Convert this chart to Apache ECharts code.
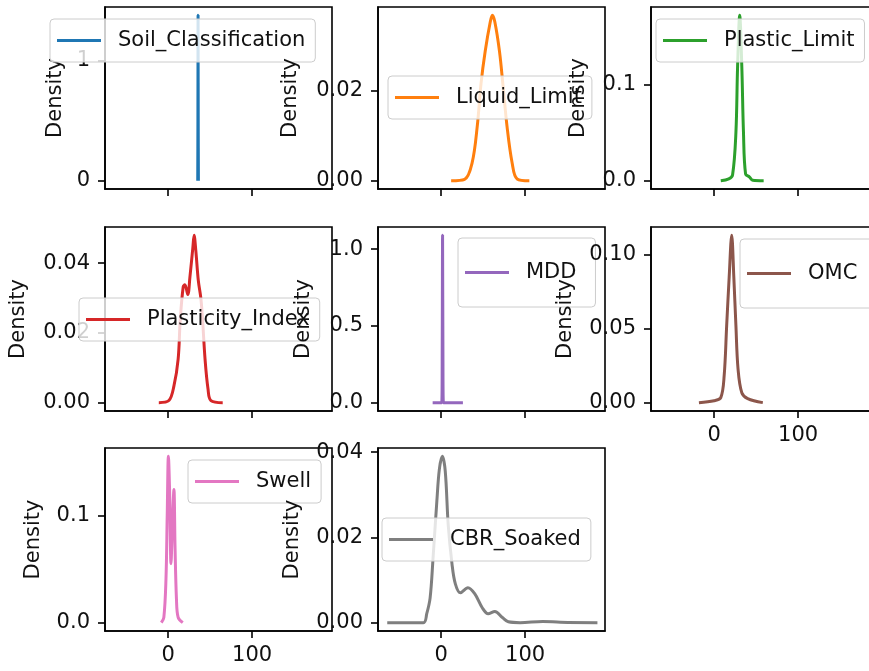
<!DOCTYPE html>
<html>
<head>
<meta charset="utf-8">
<script src="https://cdn.jsdelivr.net/npm/echarts@6/dist/echarts.min.js"></script>
<style>
html, body { margin: 0; padding: 0; background: #fff; }
#main { width: 869px; height: 671px; }
</style>
</head>
<body>
<div id="main"></div>
<script>
// density curves, [x, density]
var seriesNames = ['Soil_Classification', 'Liquid_Limit', 'Plastic_Limit', 'Plasticity_Index',
                   'MDD', 'OMC', 'Swell', 'CBR_Soaked'];

var soilClassification = [[35.3, 0], [35.5, 0.45], [35.7, 1.38], [35.9, 0.45], [36.1, 0]];
var liquidLimit = [[12, 0], [28, 0.0003], [37, 0.004], [43, 0.012], [47.5, 0.0215], [52.5, 0.0287],
                   [58.5, 0.0352], [61, 0.0367], [64, 0.0352], [69.5, 0.0287], [73.5, 0.0215],
                   [78.5, 0.012], [84.5, 0.004], [90.5, 0.0004], [105, 0]];
var plasticLimit = [[8, 0], [17.5, 0.002], [22, 0.006], [26, 0.05], [28, 0.119], [30.5, 0.172],
                    [33, 0.119], [35, 0.05], [37.5, 0.007], [42, 0.004], [46, 0.0005], [59, 0]];
var plasticityIndex = [[-11, 0], [1, 0.0006], [7, 0.0048], [12, 0.0125], [14.5, 0.0238], [18, 0.0332],
                       [20, 0.0338], [23.5, 0.031], [26, 0.036], [29.5, 0.0445], [31, 0.048],
                       [33, 0.0437], [36, 0.035], [39, 0.030], [41, 0.024], [44, 0.0125],
                       [47.5, 0.004], [51, 0.0006], [65, 0]];
var mdd = [[-10, 0], [0.8, 0], [1.4, 0.4], [1.8, 1.09], [2.2, 0.4], [2.8, 0], [26, 0]];
var omc = [[-18, 0], [0, 0.0013], [8, 0.0034], [12, 0.018], [15, 0.052], [18, 0.085], [21, 0.113],
           [23.5, 0.085], [26, 0.052], [28.5, 0.023], [33, 0.0067], [40, 0.0027], [58, 0]];
var swell = [[-8, 0], [-5, 0.005], [-2.5, 0.04], [-1, 0.10], [0.4, 0.155], [2, 0.118], [3.5, 0.055],
             [5, 0.087], [7, 0.124], [8.3, 0.071], [10, 0.022], [12, 0.005], [17.5, 0]];
var cbrSoaked = [[-64, 0], [-21, 0], [-17, 0.0021], [-13, 0.0058], [-9.5, 0.0152], [-5, 0.0285],
                 [-2, 0.036], [1.5, 0.039], [5, 0.0355], [8.5, 0.023], [13, 0.0138], [17, 0.0091],
                 [23, 0.0070], [32, 0.0082], [40, 0.0068], [49, 0.0035], [56, 0.0021], [64, 0.0026],
                 [73, 0.0012], [80, 0.0002], [94, 0], [121, 0.0003], [142, 0.0001], [186, 0]];

var curves = [soilClassification, liquidLimit, plasticLimit, plasticityIndex, mdd, omc, swell, cbrSoaked];

// tick labels
var xTicks = [0, 100];
var yTicks = [[0, 1], [0, 0.02], [0, 0.1], [0, 0.02, 0.04], [0, 0.5, 1.0], [0, 0.05, 0.1], [0, 0.1], [0, 0.02, 0.04]];
var yDecimals = [0, 2, 1, 2, 1, 2, 1, 2];

var colors = ['#1f77b4', '#ff7f0e', '#2ca02c', '#d62728', '#9467bd', '#8c564b', '#e377c2', '#7f7f7f'];

// layout
var xMin = -75, xMax = 195;
var colLeft = [105, 378, 651];
var rowTop = [7, 227, 448];
var rowHeight = [182, 184, 183];
var gridWidth = 227;
var nameGaps = [39, 77, 62, 76, 64, 75, 61, 75];
var showXLabels = [false, false, false, false, false, true, true, true];
var legendPos = [
    {left: 50, top: 19}, {left: 388, top: 76}, {left: 656, top: 19}, {left: 79, top: 298},
    {left: 458, top: 238}, {left: 740, top: 239}, {left: 188, top: 460}, {left: 382, top: 518}
];
var tallLegend = [false, false, false, false, true, true, false, false];

var font = 'DejaVu Sans';
var myChart = echarts.init(document.getElementById('main'));

var grids = [], xAxes = [], yAxes = [], series = [], legends = [];

for (var i = 0; i < curves.length; i++) {
    var r = Math.floor(i / 3), c = i % 3;
    var peak = Math.max.apply(null, curves[i].map(function (p) { return p[1]; }));
    var dec = yDecimals[i];
    grids.push({
        left: colLeft[c], top: rowTop[r], width: gridWidth, height: rowHeight[r],
        show: true, borderColor: '#000', borderWidth: 1.6, backgroundColor: 'transparent',
        containLabel: false, outerBoundsMode: 'none'
    });
    xAxes.push({
        type: 'value', gridIndex: i, min: xMin, max: xMax, z: 3 + 2 * i,
        axisLine: {show: true, onZero: false, lineStyle: {color: '#000', width: 1.6}},
        axisTick: {show: true, inside: false, length: 7, customValues: xTicks, lineStyle: {color: '#000', width: 1.6}},
        axisLabel: {show: showXLabels[i], customValues: xTicks, margin: 14, fontFamily: font, fontSize: 21, color: '#111'},
        splitLine: {show: false}
    });
    yAxes.push({
        type: 'value', gridIndex: i, min: -0.05 * peak, max: 1.05 * peak, z: 3 + 2 * i,
        name: 'Density', nameLocation: 'middle', nameGap: nameGaps[i], nameMoveOverlap: false,
        nameTextStyle: {fontFamily: font, fontSize: 21, color: '#111'},
        axisLine: {show: true, onZero: false, lineStyle: {color: '#000', width: 1.6}},
        axisTick: {show: true, inside: false, length: 7, customValues: yTicks[i], lineStyle: {color: '#000', width: 1.6}},
        axisLabel: {
            show: true, customValues: yTicks[i], margin: 15, fontFamily: font, fontSize: 21, color: '#111',
            formatter: (function (d) { return function (v) { return Number(v).toFixed(d); }; })(dec)
        },
        splitLine: {show: false}
    });
    series.push({
        name: seriesNames[i], type: 'line', xAxisIndex: i, yAxisIndex: i,
        data: curves[i], showSymbol: false, symbol: 'none', smooth: 0.35,
        lineStyle: {color: colors[i], width: 3}, itemStyle: {color: colors[i]}, z: 2
    });
    legends.push({
        data: [seriesNames[i]], left: legendPos[i].left, top: legendPos[i].top, z: 4 + 2 * i,
        orient: 'horizontal', selectedMode: false, icon: 'rect', itemWidth: 44, itemHeight: 3,
        padding: tallLegend[i] ? [8, 19, 8, 7] : [9, 10, 9, 7],
        backgroundColor: 'rgba(255,255,255,0.8)', borderColor: '#cccccc', borderWidth: 1, borderRadius: 4,
        textStyle: {
            fontFamily: font, fontSize: 21, color: '#111', lineHeight: 25,
            padding: tallLegend[i] ? [0, 0, 28, 12] : [0, 0, 0, 12]
        }
    });
}

var option = {
    animation: false,
    backgroundColor: '#fff',
    color: colors,
    grid: grids,
    xAxis: xAxes,
    yAxis: yAxes,
    legend: legends,
    series: series
};
myChart.setOption(option);
</script>
</body>
</html>
